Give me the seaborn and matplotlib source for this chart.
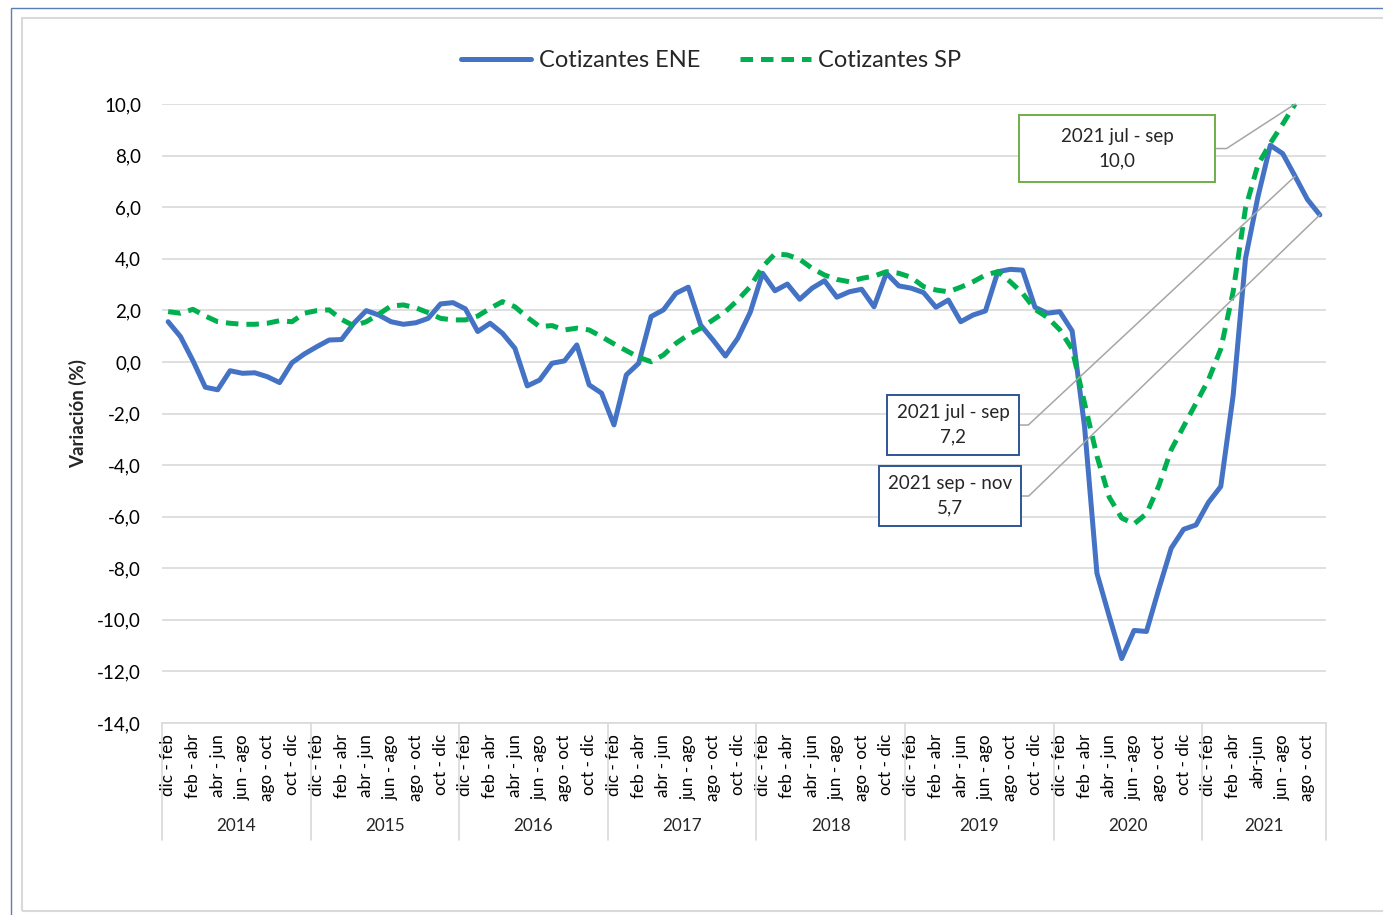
import numpy as np
import pandas as pd
import matplotlib
matplotlib.use("Agg")
import matplotlib.pyplot as plt
from matplotlib.patches import Rectangle
from matplotlib.ticker import FuncFormatter, MultipleLocator
import seaborn as sns

# =====================
# data

years = [2014, 2015, 2016, 2017, 2018, 2019, 2020, 2021]
periods = ["dic - feb", "ene - mar", "feb - abr", "mar - may", "abr - jun", "may - jul",
           "jun - ago", "jul - sep", "ago - oct", "sep - nov", "oct - dic", "nov - ene"]
periods_2021 = ["dic - feb", "ene - mar", "feb - abr", "mar - may", "abr-jun", "may - jul",
                "jun - ago", "jul - sep", "ago - oct", "sep - nov"]

ene = [1.56, 0.98, 0.05, -0.98, -1.08, -0.34, -0.44, -0.42, -0.57, -0.80, -0.03, 0.31,
       0.59, 0.85, 0.87, 1.50, 1.99, 1.82, 1.56, 1.46, 1.52, 1.69, 2.25, 2.30,
       2.06, 1.18, 1.50, 1.11, 0.53, -0.93, -0.70, -0.05, 0.04, 0.66, -0.89, -1.21,
       -2.44, -0.50, -0.05, 1.76, 2.02, 2.66, 2.90, 1.43, 0.85, 0.23, 0.92, 1.92,
       3.44, 2.76, 3.02, 2.43, 2.86, 3.15, 2.51, 2.72, 2.82, 2.14, 3.44, 2.95,
       2.86, 2.69, 2.12, 2.40, 1.56, 1.82, 1.98, 3.50, 3.59, 3.56, 2.12, 1.89,
       1.95, 1.20, -2.50, -8.19, -9.87, -11.50, -10.41, -10.45, -8.80, -7.22, -6.49, -6.32,
       -5.45, -4.83, -1.30, 4.02, 6.40, 8.40, 8.08, 7.20, 6.30, 5.70]

sp = [1.95, 1.89, 2.04, 1.78, 1.56, 1.50, 1.46, 1.46, 1.50, 1.60, 1.56, 1.89,
      1.99, 2.02, 1.65, 1.40, 1.56, 1.85, 2.17, 2.21, 2.10, 1.91, 1.69, 1.63,
      1.63, 1.78, 2.08, 2.34, 2.14, 1.73, 1.37, 1.41, 1.24, 1.31, 1.24, 0.98,
      0.70, 0.44, 0.18, 0.01, 0.27, 0.72, 1.05, 1.31, 1.63, 1.95, 2.40, 2.92,
      3.69, 4.19, 4.15, 3.98, 3.63, 3.37, 3.20, 3.11, 3.24, 3.33, 3.50, 3.44,
      3.28, 2.92, 2.79, 2.72, 2.90, 3.11, 3.37, 3.50, 3.11, 2.66, 2.04, 1.73,
      1.25, 0.50, -1.60, -3.65, -5.25, -6.05, -6.28, -5.88, -4.80, -3.40, -2.50, -1.60,
      -0.70, 0.50, 2.72, 5.97, 7.64, 8.48, 9.22, 10.00]

# labels for the three callouts: (series, index, text)
callouts = [
    ("SP", 91, "2021 jul - sep\n10,0"),
    ("ENE", 91, "2021 jul - sep\n7,2"),
    ("ENE", 93, "2021 sep - nov\n5,7"),
]

# ================
# build dataframe

rows = []
for y in years:
    labs = periods_2021 if y == 2021 else periods
    for p in labs:
        rows.append((y, p))
df = pd.DataFrame(rows, columns=["year", "period"])
df["idx"] = np.arange(len(df))
df["ENE"] = ene
df["SP"] = sp + [np.nan] * (len(df) - len(sp))

blue = "#4472C4"
green = "#00B050"
grid_c = "#D9D9D9"

# ==========
# plot setup

sns.set_theme(style="white")
plt.rcParams["font.family"] = ["Lato", "DejaVu Sans"]

fig = plt.figure(figsize=(13.83, 9.15), dpi=100)
ax = fig.add_axes([0.1171, 0.2098, 0.8417, 0.6765])

sns.lineplot(data=df, x="idx", y="ENE", color=blue, linewidth=3.6,
             label="Cotizantes ENE", ax=ax, legend=False)
sns.lineplot(data=df.dropna(subset=["SP"]), x="idx", y="SP", color=green, linewidth=3.6,
             linestyle=(0, (2.5, 1.6)), label="Cotizantes SP", ax=ax, legend=False)

ax.set_xlim(-0.5, len(df) - 0.5)
ax.set_ylim(-14, 10)
ax.yaxis.set_major_locator(MultipleLocator(2))
ax.yaxis.set_major_formatter(FuncFormatter(lambda v, p: f"{v:.1f}".replace(".", ",")))
ax.grid(axis="y", color=grid_c, linewidth=1.2)
ax.set_axisbelow(True)
for s in ["top", "right", "left"]:
    ax.spines[s].set_visible(False)
ax.spines["bottom"].set_color(grid_c)
ax.spines["bottom"].set_linewidth(1.2)

ax.tick_params(axis="y", length=0, pad=15, labelsize=13.5, colors="black")
ax.set_ylabel("Variación (%)", fontsize=13.5, fontweight="bold", labelpad=7)

# category ticks: every second period, years underneath
tick_pos = df["idx"][df.groupby("year").cumcount() % 2 == 0]
ax.set_xticks(tick_pos)
ax.set_xticklabels(df.loc[tick_pos, "period"], rotation=90, fontsize=12.3)
ax.tick_params(axis="x", length=0, pad=8, colors="black")
ax.set_xlabel("")

trans = ax.get_xaxis_transform()
bounds = [-0.5]
for y in years:
    sub = df[df["year"] == y]
    bounds.append(sub["idx"].max() + 0.5)
    ax.text(sub["idx"].mean(), -0.167, str(y), transform=trans,
            ha="center", va="center", fontsize=12.3)
for b in bounds:
    ax.plot([b, b], [0, -0.189], transform=trans, color=grid_c, linewidth=1.2, clip_on=False)

# ========
# callouts

boxes = [
    # x0, y0, x1, y1 (axes fraction), edge colour, leader angle
    (0.7363, 0.874, 0.9046, 0.9822, "#70AD47", 33),
    (0.6229, 0.4330, 0.7363, 0.5299, "#2F5597", 43),
    (0.6160, 0.3183, 0.7380, 0.4152, "#2F5597", 44),
]
for (serie, i, txt), (x0, y0, x1, y1, ec, ang) in zip(callouts, boxes):
    ax.add_patch(Rectangle((x0, y0), x1 - x0, y1 - y0, transform=ax.transAxes,
                           facecolor="white", edgecolor=ec, linewidth=1.4, zorder=5))
    ax.text((x0 + x1) / 2, (y0 + y1) / 2, txt, transform=ax.transAxes,
            ha="center", va="center", fontsize=13.5, linespacing=1.55, zorder=6)
    ax.annotate("", xy=(df.loc[i, "idx"], df.loc[i, serie]), xycoords="data",
                xytext=(x1, (y0 + y1) / 2), textcoords="axes fraction",
                arrowprops=dict(arrowstyle="-", color="#A6A6A6", linewidth=1.1,
                                shrinkA=0, shrinkB=0,
                                connectionstyle=f"angle,angleA=0,angleB={ang},rad=0"),
                zorder=4)

# legend
handles, labels = ax.get_legend_handles_labels()
fig.legend(handles, labels, loc="center", bbox_to_anchor=(0.514, 0.934), ncol=2,
           frameon=False, fontsize=17, handlelength=3.0, handletextpad=0.3,
           columnspacing=1.7)

# chart frame
fig.patches.append(Rectangle((0.0159, 0.0044), 1.2, 0.9759, transform=fig.transFigure,
                             fill=False, edgecolor=grid_c, linewidth=1.5))
fig.patches.append(Rectangle((0.008, -0.1), 1.2, 1.0913, transform=fig.transFigure,
                             fill=False, edgecolor="#5B7DB8", linewidth=1.0))

plt.savefig("out.png", dpi=100)
